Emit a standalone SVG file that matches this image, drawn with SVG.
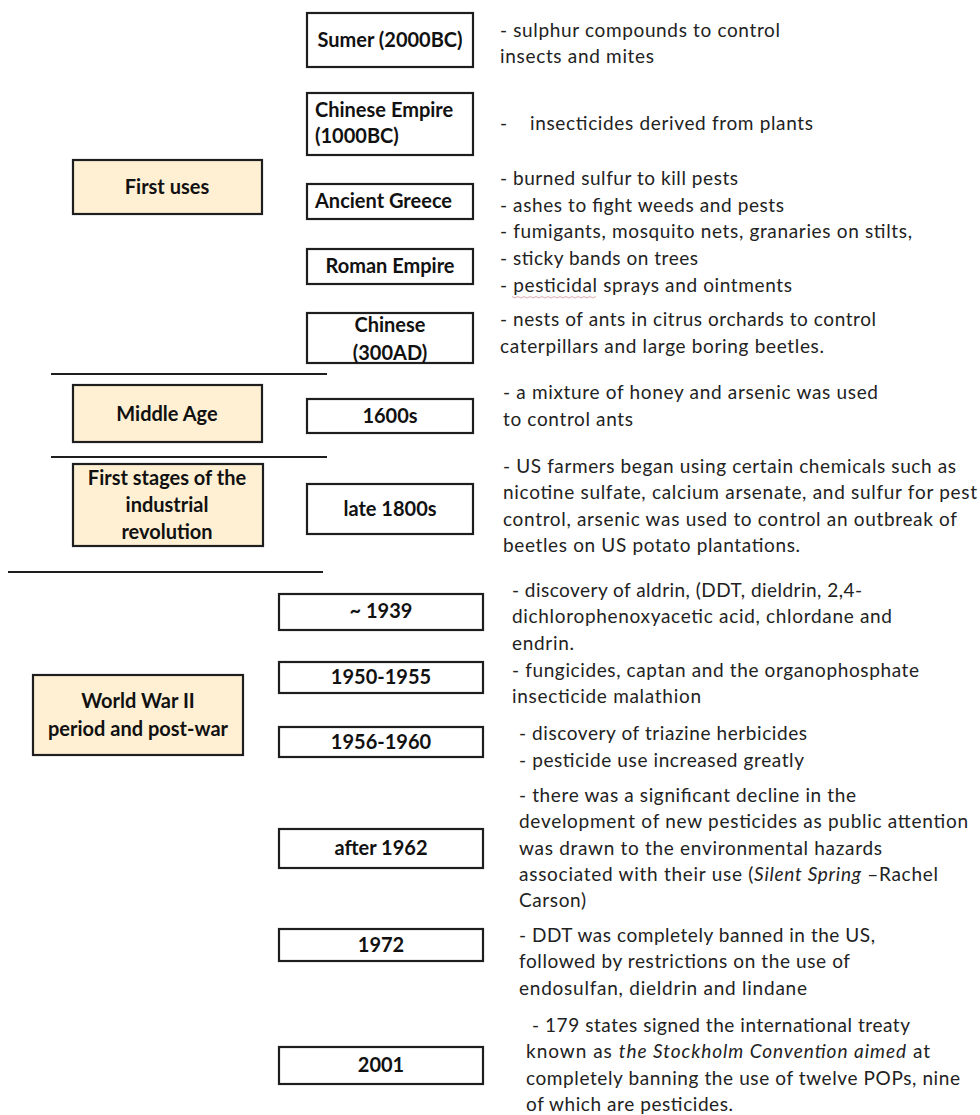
<svg xmlns="http://www.w3.org/2000/svg" width="980" height="1115" viewBox="0 0 980 1115">
<style>
.box{fill:#ffffff;stroke:#1e1e1e;stroke-width:2.2}
.era{fill:#fff0d3;stroke:#1e1e1e;stroke-width:2.2}
.lbl{font-family:Lato,"Liberation Sans",sans-serif;font-weight:bold;font-size:20px;fill:#111;text-anchor:middle}
.lbl-l{font-family:Lato,"Liberation Sans",sans-serif;font-weight:bold;font-size:20px;fill:#111}
.txt{font-family:Lato,"Liberation Sans",sans-serif;font-size:19px;fill:#222}
.it{font-style:italic}
.sep{stroke:#1e1e1e;stroke-width:2.2}
</style>
<rect width="980" height="1115" fill="#ffffff"/>

<g id="connectors">
<line class="sep" x1="51" y1="374" x2="327" y2="374"/>
<line class="sep" x1="51" y1="457" x2="327" y2="457"/>
<line class="sep" x1="8" y1="572" x2="323" y2="572"/>
</g>

<g id="era-first-uses">
<rect class="era" x="73" y="160" width="189" height="54"/>
<text class="lbl" x="167" y="194">First uses</text>
</g>
<g id="era-middle-age">
<rect class="era" x="73" y="385" width="189" height="57"/>
<text class="lbl" x="167" y="421">Middle Age</text>
</g>
<g id="era-industrial">
<rect class="era" x="73" y="464" width="190" height="82"/>
<text class="lbl" x="167" y="485">First stages of the</text>
<text class="lbl" x="167" y="512">industrial</text>
<text class="lbl" x="167" y="539">revolution</text>
</g>
<g id="era-wwii">
<rect class="era" x="33" y="675" width="210" height="80"/>
<text class="lbl" x="138" y="708">World War II</text>
<text class="lbl" x="138" y="736">period and post-war</text>
</g>

<g id="sumer">
<rect class="box" x="307" y="13" width="166" height="54"/>
<text class="lbl" x="390" y="47">Sumer (2000BC)</text>
</g>
<g id="chinese-empire">
<rect class="box" x="307" y="93" width="166" height="62"/>
<text class="lbl-l" x="315" y="117">Chinese Empire</text>
<text class="lbl-l" x="315" y="143">(1000BC)</text>
</g>
<g id="ancient-greece">
<rect class="box" x="307" y="184" width="166" height="35"/>
<text class="lbl-l" x="315" y="208">Ancient Greece</text>
</g>
<g id="roman-empire">
<rect class="box" x="307" y="249" width="166" height="35"/>
<text class="lbl" x="390" y="273">Roman Empire</text>
</g>
<g id="chinese-300ad">
<rect class="box" x="307" y="313" width="166" height="50"/>
<text class="lbl" x="390" y="332">Chinese</text>
<text class="lbl" x="390" y="360">(300AD)</text>
</g>
<g id="y1600s">
<rect class="box" x="307" y="399" width="166" height="34"/>
<text class="lbl" x="390" y="423">1600s</text>
</g>
<g id="late-1800s">
<rect class="box" x="307" y="484" width="166" height="50"/>
<text class="lbl" x="390" y="516">late 1800s</text>
</g>
<g id="y1939">
<rect class="box" x="279" y="594" width="204" height="36"/>
<text class="lbl" x="381" y="618">~ 1939</text>
</g>
<g id="y1950">
<rect class="box" x="279" y="662" width="204" height="31"/>
<text class="lbl" x="381" y="684">1950-1955</text>
</g>
<g id="y1956">
<rect class="box" x="279" y="727" width="204" height="30"/>
<text class="lbl" x="381" y="749">1956-1960</text>
</g>
<g id="after-1962">
<rect class="box" x="279" y="829" width="204" height="39"/>
<text class="lbl" x="381" y="855">after 1962</text>
</g>
<g id="y1972">
<rect class="box" x="279" y="929" width="204" height="32"/>
<text class="lbl" x="381" y="952">1972</text>
</g>
<g id="y2001">
<rect class="box" x="279" y="1047" width="204" height="37"/>
<text class="lbl" x="381" y="1072">2001</text>
</g>

<g id="descriptions">
<text class="txt" x="500" y="37" textLength="280">- sulphur compounds to control</text>
<text class="txt" x="500" y="63" textLength="154">insects and mites</text>
<text class="txt" x="500" y="130">-</text>
<text class="txt" x="530" y="130" textLength="283">insecticides derived from plants</text>
<text class="txt" x="500" y="185" textLength="238">- burned sulfur to kill pests</text>
<text class="txt" x="500" y="212" textLength="284">- ashes to fight weeds and pests</text>
<text class="txt" x="500" y="238" textLength="412">- fumigants, mosquito nets, granaries on stilts,</text>
<text class="txt" x="500" y="265" textLength="198">- sticky bands on trees</text>
<text class="txt" x="500" y="292" textLength="292">- pesticidal sprays and ointments</text>
<path d="M512 296.5 l3 1.5 l3 -1.5 l3 1.5 l3 -1.5 l3 1.5 l3 -1.5 l3 1.5 l3 -1.5 l3 1.5 l3 -1.5 l3 1.5 l3 -1.5 l3 1.5 l3 -1.5 l3 1.5 l3 -1.5 l3 1.5 l3 -1.5 l3 1.5 l3 -1.5 l3 1.5 l3 -1.5 l3 1.5 l3 -1.5 l3 1.5 l3 -1.5 l3 1.5 l3 -1.5" fill="none" stroke="#e3a7ad" stroke-width="1"/>
<text class="txt" x="500" y="326" textLength="376">- nests of ants in citrus orchards to control</text>
<text class="txt" x="500" y="353" textLength="324">caterpillars and large boring beetles.</text>

<text class="txt" x="503" y="399" textLength="375">- a mixture of honey and arsenic was used</text>
<text class="txt" x="503" y="426" textLength="130">to control ants</text>

<text class="txt" x="503" y="473" textLength="453">- US farmers began using certain chemicals such as</text>
<text class="txt" x="503" y="499" textLength="474">nicotine sulfate, calcium arsenate, and sulfur for pest</text>
<text class="txt" x="503" y="526" textLength="454">control, arsenic was used to control an outbreak of</text>
<text class="txt" x="503" y="552" textLength="297">beetles on US potato plantations.</text>

<text class="txt" x="512" y="597" textLength="350">- discovery of aldrin, (DDT, dieldrin, 2,4-</text>
<text class="txt" x="512" y="623" textLength="380">dichlorophenoxyacetic acid, chlordane and</text>
<text class="txt" x="512" y="650" textLength="62">endrin.</text>

<text class="txt" x="512" y="677" textLength="407">- fungicides, captan and the organophosphate</text>
<text class="txt" x="512" y="703" textLength="189">insecticide malathion</text>

<text class="txt" x="519" y="740" textLength="288">- discovery of triazine herbicides</text>
<text class="txt" x="519" y="767" textLength="285">- pesticide use increased greatly</text>

<text class="txt" x="519" y="802" textLength="337">- there was a significant decline in the</text>
<text class="txt" x="519" y="828" textLength="449">development of new pesticides as public attention</text>
<text class="txt" x="519" y="855" textLength="363">was drawn to the environmental hazards</text>
<text class="txt" x="519" y="881" textLength="419">associated with their use (<tspan class="it">Silent Spring</tspan> –Rachel</text>
<text class="txt" x="519" y="907" textLength="67">Carson)</text>

<text class="txt" x="519" y="942" textLength="356">- DDT was completely banned in the US,</text>
<text class="txt" x="519" y="968" textLength="331">followed by restrictions on the use of</text>
<text class="txt" x="519" y="995" textLength="288">endosulfan, dieldrin and lindane</text>

<text class="txt" x="532" y="1032" textLength="378">- 179 states signed the international treaty</text>
<text class="txt" x="526" y="1058" textLength="404">known as <tspan class="it">the Stockholm Convention aimed</tspan> at</text>
<text class="txt" x="526" y="1085" textLength="434">completely banning the use of twelve POPs, nine</text>
<text class="txt" x="526" y="1111" textLength="207">of which are pesticides.</text>
</g>
</svg>
